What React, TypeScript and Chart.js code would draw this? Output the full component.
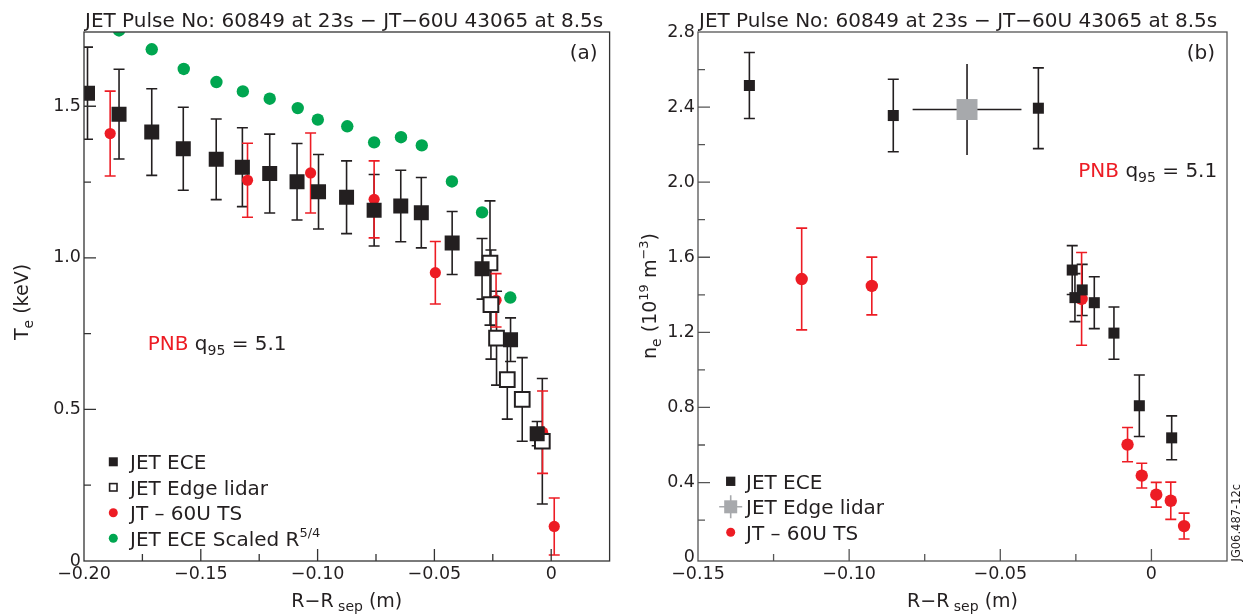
import React, { useEffect, useRef } from "react";
import { Chart, registerables } from "chart.js";

Chart.register(...registerables);

const FONT = "'DejaVu Sans', sans-serif";
const INK = "#231f20";
const RED = "#ed1c24";
const GREEN = "#00a650";
const GRAY = "#a7a9ac";

const titleText = "JET Pulse No: 60849 at 23s \u2212 JT\u221260U 43065 at 8.5s";

// ---------- Panel (a): electron temperature ----------
const teXTicks = [-0.2, -0.15, -0.1, -0.05, 0];
const teXLabels = ["\u22120.20", "\u22120.15", "\u22120.10", "\u22120.05", "0"];
const teXMinor = [-0.175, -0.125, -0.075, -0.025];
const teYTicks = [0, 0.5, 1.0, 1.5];
const teYLabels = ["0", "0.5", "1.0", "1.5"];
const teYMinor = [0.25, 0.75, 1.25];

const teEceX = [-0.1985, -0.185, -0.171, -0.1575, -0.1434, -0.1322, -0.1205, -0.1088, -0.0996, -0.0876, -0.0758, -0.0644, -0.0556, -0.0424, -0.0296, -0.0174, -0.006];
const teEce = [1.543, 1.474, 1.415, 1.36, 1.325, 1.299, 1.278, 1.251, 1.218, 1.2, 1.157, 1.171, 1.149, 1.049, 0.964, 0.73, 0.42];
const teEceErr = [0.152, 0.148, 0.143, 0.137, 0.133, 0.13, 0.13, 0.126, 0.123, 0.12, 0.118, 0.118, 0.116, 0.104, 0.1, 0.072, 0.04];

const teLidarX = [-0.0262, -0.0258, -0.0234, -0.0188, -0.0124, -0.0038];
const teLidar = [0.983, 0.846, 0.735, 0.598, 0.533, 0.395];
const teLidarErr = [0.205, 0.18, 0.155, 0.13, 0.138, 0.207];

const teTsX = [-0.1888, -0.13, -0.103, -0.0758, -0.0496, -0.0236, -0.0037, 0.0013];
const teTs = [1.41, 1.256, 1.28, 1.193, 0.951, 0.86, 0.425, 0.114];
const teTsErr = [0.14, 0.122, 0.132, 0.127, 0.103, 0.088, 0.136, 0.094];

const teScaledX = [-0.185, -0.171, -0.1573, -0.1433, -0.132, -0.1205, -0.1085, -0.0999, -0.0873, -0.0758, -0.0643, -0.0554, -0.0425, -0.0296, -0.0175];
const teScaled = [1.75, 1.688, 1.623, 1.58, 1.549, 1.525, 1.494, 1.456, 1.434, 1.381, 1.398, 1.371, 1.252, 1.15, 0.869];

// ---------- Panel (b): electron density ----------
const neXTicks = [-0.15, -0.1, -0.05, 0];
const neXLabels = ["\u22120.15", "\u22120.10", "\u22120.05", "0"];
const neXMinor = [-0.125, -0.075, -0.025];
const neYTicks = [0, 0.4, 0.8, 1.2, 1.6, 2.0, 2.4, 2.8];
const neYLabels = ["0", "0.4", "0.8", "1.2", "1.6", "2.0", "2.4", "2.8"];
const neYMinor = [0.2, 0.6, 1.0, 1.4, 1.8, 2.2, 2.6];

const neEceX = [-0.133, -0.0854, -0.0374, -0.0262, -0.0253, -0.0229, -0.0189, -0.0124, -0.004, 0.0067];
const neEce = [2.515, 2.355, 2.394, 1.532, 1.385, 1.426, 1.358, 1.196, 0.809, 0.638];
const neEceErr = [0.176, 0.193, 0.215, 0.13, 0.128, 0.136, 0.138, 0.139, 0.164, 0.117];

const neLidarX = [-0.061];
const neLidar = [2.387];
const neLidarErrY = [0.242];
const neLidarErrX = [0.018];

const neTsX = [-0.1157, -0.0925, -0.0231, -0.0079, -0.0032, 0.0016, 0.0064, 0.0108];
const neTs = [1.484, 1.447, 1.378, 0.602, 0.437, 0.335, 0.303, 0.168];
const neTsErr = [0.271, 0.154, 0.247, 0.091, 0.066, 0.066, 0.099, 0.069];

// ---------- types & helpers ----------
type Run = { t: string; size: number; dy?: number; color?: string };
type Err = { x: number[]; y: number[]; ey: number[]; ex?: number[]; color: string; cap: number };
type LegendItem = { mark: "fsq" | "osq" | "dot" | "cross"; color: string; size: number; runs: Run[] };
interface Panel {
  xMin: number; xMax: number; yMin: number; yMax: number;
  xTicks: number[]; xLabels: string[]; xMinor: number[];
  yTicks: number[]; yLabels: string[]; yMinor: number[];
  yAxisW: number; padRight: number; frameColor: string;
  datasets: any[]; errors: Err[];
  tag: string; pnbX: number; pnbY: number;
  yTitle: Run[]; yTitleX: number; yTitleCY: number;
  legend: LegendItem[]; legX: number; legTextX: number; legY0: number; legStep: number;
  stamp: boolean;
}

const pts = (xs: number[], ys: number[]) => xs.map((x, i) => ({ x, y: ys[i] }));

function runsWidth(ctx: CanvasRenderingContext2D, runs: Run[]) {
  let w = 0;
  for (const r of runs) {
    ctx.font = `${r.size}px ${FONT}`;
    w += ctx.measureText(r.t).width;
  }
  return w;
}
function drawRuns(ctx: CanvasRenderingContext2D, runs: Run[], x: number, y: number) {
  let cx = x;
  ctx.textAlign = "left";
  ctx.textBaseline = "alphabetic";
  for (const r of runs) {
    ctx.font = `${r.size}px ${FONT}`;
    ctx.fillStyle = r.color || INK;
    ctx.fillText(r.t, cx, y + (r.dy || 0));
    cx += ctx.measureText(r.t).width;
  }
}

const xTitle: Run[] = [
  { t: "R\u2212R", size: 19 },
  { t: " sep", size: 14, dy: 4 },
  { t: " (m)", size: 19 },
];
const pnbRuns: Run[] = [
  { t: "PNB", size: 20, color: RED },
  { t: " q", size: 20 },
  { t: "95", size: 14, dy: 5 },
  { t: " = 5.1", size: 20 },
];

function decor(p: Panel) {
  return {
    id: "decor",
    beforeDatasetsDraw(chart: any) {
      const ctx: CanvasRenderingContext2D = chart.ctx;
      const { left, right, top, bottom } = chart.chartArea;
      const xs = chart.scales.x;
      const ys = chart.scales.y;
      ctx.save();
      ctx.beginPath();
      ctx.rect(left, top, right - left, bottom - top);
      ctx.clip();
      for (const e of p.errors) {
        ctx.strokeStyle = e.color;
        ctx.lineWidth = 1.6;
        e.x.forEach((xv, i) => {
          const px = xs.getPixelForValue(xv);
          const y1 = ys.getPixelForValue(e.y[i] + e.ey[i]);
          const y2 = ys.getPixelForValue(e.y[i] - e.ey[i]);
          ctx.beginPath();
          ctx.moveTo(px, y1);
          ctx.lineTo(px, y2);
          if (e.cap > 0) {
            ctx.moveTo(px - e.cap, y1);
            ctx.lineTo(px + e.cap, y1);
            ctx.moveTo(px - e.cap, y2);
            ctx.lineTo(px + e.cap, y2);
          }
          if (e.ex) {
            const py = ys.getPixelForValue(e.y[i]);
            ctx.moveTo(xs.getPixelForValue(xv - e.ex[i]), py);
            ctx.lineTo(xs.getPixelForValue(xv + e.ex[i]), py);
          }
          ctx.stroke();
        });
      }
      ctx.restore();
    },
    afterDraw(chart: any) {
      const ctx: CanvasRenderingContext2D = chart.ctx;
      const { left, right, top, bottom } = chart.chartArea;
      const xs = chart.scales.x;
      const ys = chart.scales.y;
      ctx.save();
      // frame
      ctx.strokeStyle = p.frameColor;
      ctx.lineWidth = 1.3;
      ctx.strokeRect(left, top, right - left, bottom - top);
      // inward ticks
      ctx.beginPath();
      const tick = (vals: number[], len: number) => {
        for (const v of vals) {
          const py = ys.getPixelForValue(v);
          if (py > bottom - 4 || py < top + 4) continue;
          ctx.moveTo(left, py);
          ctx.lineTo(left + len, py);
        }
      };
      const tickX = (vals: number[], len: number) => {
        for (const v of vals) {
          const px = xs.getPixelForValue(v);
          if (px < left + 4 || px > right - 4) continue;
          ctx.moveTo(px, bottom);
          ctx.lineTo(px, bottom - len);
        }
      };
      tick(p.yTicks, 12);
      tick(p.yMinor, 7);
      tickX(p.xTicks, 12);
      tickX(p.xMinor, 7);
      ctx.stroke();

      // title
      drawRuns(ctx, [{ t: titleText, size: 20 }], left + 1, 27);
      // panel tag
      ctx.font = `20px ${FONT}`;
      ctx.fillStyle = INK;
      ctx.textAlign = "right";
      ctx.fillText(p.tag, right - 12, 59);
      // PNB annotation
      drawRuns(ctx, pnbRuns, p.pnbX, p.pnbY);
      // x title
      const xw = runsWidth(ctx, xTitle);
      drawRuns(ctx, xTitle, (left + right) / 2 - xw / 2, 607);
      // y title (rotated)
      const yw = runsWidth(ctx, p.yTitle);
      ctx.save();
      ctx.translate(p.yTitleX, p.yTitleCY);
      ctx.rotate(-Math.PI / 2);
      drawRuns(ctx, p.yTitle, -yw / 2, 0);
      ctx.restore();

      // legend
      p.legend.forEach((it, i) => {
        const by = p.legY0 + i * p.legStep;
        const my = by - 7.5;
        const mx = p.legX;
        const s = it.size;
        ctx.fillStyle = it.color;
        ctx.strokeStyle = it.color;
        if (it.mark === "fsq") {
          ctx.fillRect(mx - s / 2, my - s / 2, s, s);
        } else if (it.mark === "osq") {
          ctx.fillStyle = "#ffffff";
          ctx.fillRect(mx - s / 2, my - s / 2, s, s);
          ctx.lineWidth = 1.6;
          ctx.strokeRect(mx - s / 2 + 0.8, my - s / 2 + 0.8, s - 1.6, s - 1.6);
        } else if (it.mark === "dot") {
          ctx.beginPath();
          ctx.arc(mx, my, s, 0, Math.PI * 2);
          ctx.fill();
        } else {
          ctx.lineWidth = 1.6;
          ctx.beginPath();
          ctx.moveTo(mx - 11.5, my);
          ctx.lineTo(mx + 11.5, my);
          ctx.moveTo(mx, my - 11.5);
          ctx.lineTo(mx, my + 11.5);
          ctx.stroke();
          ctx.fillRect(mx - s / 2, my - s / 2, s, s);
        }
        drawRuns(ctx, it.runs, p.legTextX, by);
      });

      if (p.stamp) {
        ctx.save();
        ctx.translate(617.5, 561.5);
        ctx.rotate(-Math.PI / 2);
        ctx.font = `11.5px ${FONT}`;
        ctx.fillStyle = INK;
        ctx.textAlign = "left";
        ctx.fillText("JG06.487-12c", 0, 0);
        ctx.restore();
      }
      ctx.restore();
    },
  };
}

function buildConfig(p: Panel): any {
  const tickFont = { family: FONT, size: 17.5 };
  return {
    type: "scatter",
    data: { datasets: p.datasets },
    options: {
      animation: false,
      responsive: false,
      devicePixelRatio: 1,
      events: [],
      layout: { padding: { left: 0, right: p.padRight, top: 32, bottom: 0 } },
      plugins: { legend: { display: false }, tooltip: { enabled: false }, title: { display: false } },
      scales: {
        x: {
          type: "linear",
          min: p.xMin,
          max: p.xMax,
          grid: { display: false, drawTicks: false },
          border: { display: false },
          afterBuildTicks: (s: any) => {
            s.ticks = p.xTicks.map((v) => ({ value: v }));
          },
          afterFit: (s: any) => {
            s.height = 55;
          },
          ticks: {
            autoSkip: false,
            maxRotation: 0,
            minRotation: 0,
            padding: 3,
            color: INK,
            font: tickFont,
            callback: (_v: any, i: number) => p.xLabels[i],
          },
        },
        y: {
          type: "linear",
          min: p.yMin,
          max: p.yMax,
          grid: { display: false, drawTicks: false },
          border: { display: false },
          afterBuildTicks: (s: any) => {
            s.ticks = p.yTicks.map((v) => ({ value: v }));
          },
          afterFit: (s: any) => {
            s.width = p.yAxisW;
          },
          ticks: {
            autoSkip: false,
            padding: 3,
            color: INK,
            font: tickFont,
            callback: (_v: any, i: number) => p.yLabels[i],
          },
        },
      },
    },
    plugins: [decor(p)],
  };
}

const panelA: Panel = {
  xMin: -0.2, xMax: 0.025, yMin: 0, yMax: 1.745,
  xTicks: teXTicks, xLabels: teXLabels, xMinor: teXMinor,
  yTicks: teYTicks, yLabels: teYLabels, yMinor: teYMinor,
  yAxisW: 84, padRight: 9, frameColor: "#333333",
  datasets: [
    { label: "JET ECE", data: pts(teEceX, teEce), pointStyle: "rect", pointRadius: 10.6, backgroundColor: INK, borderColor: INK, borderWidth: 0, order: 0, clip: 0 },
    { label: "JET Edge lidar", data: pts(teLidarX, teLidar), pointStyle: "rect", pointRadius: 10.4, backgroundColor: "#ffffff", borderColor: INK, borderWidth: 2, order: 1, clip: 0 },
    { label: "JT - 60U TS", data: pts(teTsX, teTs), pointStyle: "circle", pointRadius: 5.6, backgroundColor: RED, borderColor: RED, borderWidth: 0, order: 2, clip: 0 },
    { label: "JET ECE Scaled R^5/4", data: pts(teScaledX, teScaled), pointStyle: "circle", pointRadius: 6.2, backgroundColor: GREEN, borderColor: GREEN, borderWidth: 0, order: 3, clip: 0 },
  ],
  errors: [
    { x: teEceX, y: teEce, ey: teEceErr, color: INK, cap: 5.5 },
    { x: teLidarX, y: teLidar, ey: teLidarErr, color: INK, cap: 5.5 },
    { x: teTsX, y: teTs, ey: teTsErr, color: RED, cap: 5.5 },
  ],
  tag: "(a)", pnbX: 147.7, pnbY: 350,
  yTitle: [
    { t: "T", size: 19 },
    { t: "e", size: 14, dy: 5 },
    { t: " (keV)", size: 19 },
  ],
  yTitleX: 27.5, yTitleCY: 302,
  legend: [
    { mark: "fsq", color: INK, size: 9, runs: [{ t: "JET ECE", size: 20 }] },
    { mark: "osq", color: INK, size: 9, runs: [{ t: "JET Edge lidar", size: 20 }] },
    { mark: "dot", color: RED, size: 4.5, runs: [{ t: "JT \u2013 60U TS", size: 20 }] },
    { mark: "dot", color: GREEN, size: 4.5, runs: [{ t: "JET ECE Scaled R", size: 20 }, { t: "5/4", size: 13, dy: -9 }] },
  ],
  legX: 113.3, legTextX: 130, legY0: 469.3, legStep: 25.5,
  stamp: false,
};

const panelB: Panel = {
  xMin: -0.15, xMax: 0.025, yMin: -0.018, yMax: 2.8,
  xTicks: neXTicks, xLabels: neXLabels, xMinor: neXMinor,
  yTicks: neYTicks, yLabels: neYLabels, yMinor: neYMinor,
  yAxisW: 76, padRight: 17, frameColor: "#555555",
  datasets: [
    { label: "JET ECE", data: pts(neEceX, neEce), pointStyle: "rect", pointRadius: 7.8, backgroundColor: INK, borderColor: INK, borderWidth: 0, order: 0, clip: 0 },
    { label: "JET Edge lidar", data: pts(neLidarX, neLidar), pointStyle: "rect", pointRadius: 14.8, backgroundColor: GRAY, borderColor: GRAY, borderWidth: 0, order: 1, clip: 0 },
    { label: "JT - 60U TS", data: pts(neTsX, neTs), pointStyle: "circle", pointRadius: 6.2, backgroundColor: RED, borderColor: RED, borderWidth: 0, order: 2, clip: 0 },
  ],
  errors: [
    { x: neEceX, y: neEce, ey: neEceErr, color: INK, cap: 5.5 },
    { x: neLidarX, y: neLidar, ey: neLidarErrY, ex: neLidarErrX, color: INK, cap: 0 },
    { x: neTsX, y: neTs, ey: neTsErr, color: RED, cap: 5.5 },
  ],
  tag: "(b)", pnbX: 456.3, pnbY: 176.7,
  yTitle: [
    { t: "n", size: 19 },
    { t: "e", size: 14, dy: 5 },
    { t: " (10", size: 19 },
    { t: "19", size: 13, dy: -8 },
    { t: " m", size: 19 },
    { t: "\u22123", size: 13, dy: -8 },
    { t: ")", size: 19 },
  ],
  yTitleX: 34, yTitleCY: 296,
  legend: [
    { mark: "fsq", color: INK, size: 9.3, runs: [{ t: "JET ECE", size: 20 }] },
    { mark: "cross", color: GRAY, size: 13, runs: [{ t: "JET Edge lidar", size: 20 }] },
    { mark: "dot", color: RED, size: 4.5, runs: [{ t: "JT \u2013 60U TS", size: 20 }] },
  ],
  legX: 108.7, legTextX: 124, legY0: 488.8, legStep: 25.5,
  stamp: true,
};

function PanelChart({ panel, left }: { panel: Panel; left: number }) {
  const ref = useRef<HTMLCanvasElement>(null);
  useEffect(() => {
    if (!ref.current) return;
    const chart = new Chart(ref.current, buildConfig(panel));
    return () => chart.destroy();
  }, [panel]);
  return (
    <canvas
      ref={ref}
      width={622}
      height={616}
      style={{ position: "absolute", left, top: 0, width: 622, height: 616 }}
    />
  );
}

export default function App() {
  return (
    <div style={{ position: "fixed", left: 0, top: 0, width: 1244, height: 616, background: "#ffffff", overflow: "hidden" }}>
      <PanelChart panel={panelA} left={0} />
      <PanelChart panel={panelB} left={622} />
    </div>
  );
}
